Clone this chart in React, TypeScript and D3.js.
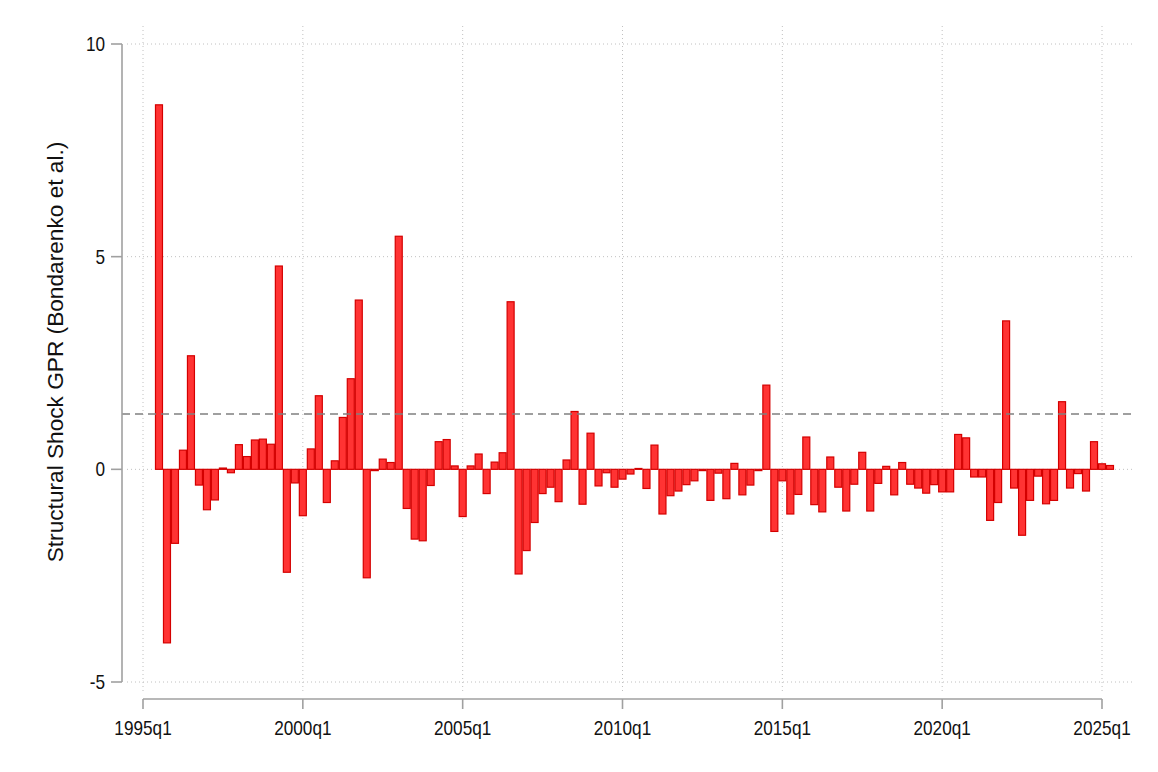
import React from "react";
import * as d3 from "d3";

// Quarterly structural GPR shocks, 1995q3 .. 2025q2
const startYear = 1995;
const startQ = 3;
const shocks: number[] = [
  8.57, -4.08,
  -1.74, 0.45, 2.67, -0.37,
  -0.95, -0.72, 0.03, -0.08,
  0.58, 0.30, 0.69, 0.71,
  0.59, 4.78, -2.42, -0.32,
  -1.09, 0.48, 1.73, -0.78,
  0.20, 1.22, 2.13, 3.98,
  -2.55, -0.03, 0.24, 0.16,
  5.48, -0.92, -1.64, -1.68,
  -0.38, 0.65, 0.70, 0.08,
  -1.11, 0.08, 0.36, -0.57,
  0.17, 0.39, 3.94, -2.46,
  -1.91, -1.25, -0.57, -0.42,
  -0.76, 0.22, 1.36, -0.82,
  0.85, -0.39, -0.08, -0.42,
  -0.23, -0.11, 0.02, -0.45,
  0.57, -1.05, -0.62, -0.51,
  -0.36, -0.27, -0.03, -0.73,
  -0.09, -0.69, 0.14, -0.60,
  -0.37, -0.03, 1.98, -1.46,
  -0.27, -1.05, -0.59, 0.76,
  -0.83, -1.0, 0.29, -0.42,
  -0.98, -0.35, 0.40, -0.98,
  -0.33, 0.07, -0.60, 0.16,
  -0.35, -0.44, -0.56, -0.36,
  -0.53, -0.53, 0.82, 0.74,
  -0.18, -0.18, -1.2, -0.78,
  3.49, -0.44, -1.55, -0.73,
  -0.16, -0.81, -0.73, 1.59,
  -0.44, -0.10, -0.51, 0.65,
  0.13, 0.09,
];
const thresholdValue = 1.3;
const xTickLabels = ["1995q1", "2000q1", "2005q1", "2010q1", "2015q1", "2020q1", "2025q1"];
const yTicks = [-5, 0, 5, 10];
const yLabel = "Structural Shock GPR (Bondarenko et al.)";

// quarter index relative to 1995q1
const quarterIndex = (label: string) => {
  const [y, q] = label.split("q").map(Number);
  return (y - 1995) * 4 + (q - 1);
};
const bars = shocks.map((v, i) => ({
  q: (startYear - 1995) * 4 + (startQ - 1) + i,
  v,
}));

export default function App() {
  const W = 1158, H = 772;
  const x = d3.scaleLinear().domain([0, 120]).range([143, 1102]);
  const y = d3.scaleLinear().domain([-5, 10]).range([682, 44]);
  const bw = x(1) - x(0);
  const tickFont = "'Liberation Sans', Arial, sans-serif";
  const gridX0 = 127, gridX1 = 1133, gridY0 = 26, gridY1 = 694;

  return (
    <svg width={W} height={H} style={{ position: "absolute", left: 0, top: 0, background: "#fff" }}>
      <rect x={0} y={0} width={W} height={H} fill="#fff" />
      {/* grid */}
      {yTicks.map((t) => (
        <line key={"gy" + t} x1={gridX0} x2={gridX1} y1={y(t)} y2={y(t)}
          stroke="#c0c0c0" strokeWidth={1} strokeDasharray="1,3" />
      ))}
      {xTickLabels.map((l) => (
        <line key={"gx" + l} x1={x(quarterIndex(l))} x2={x(quarterIndex(l))} y1={gridY0} y2={gridY1}
          stroke="#c0c0c0" strokeWidth={1} strokeDasharray="1,3" />
      ))}
      {/* bars */}
      {bars.map((b) => {
        const y0 = y(0), y1 = y(b.v);
        return (
          <rect key={b.q} x={x(b.q) - bw / 2 + 0.5} width={bw - 1}
            y={Math.min(y0, y1)} height={Math.max(Math.abs(y1 - y0), 0.8)}
            fill="#ff3333" stroke="#d40000" strokeWidth={1.2} />
        );
      })}
      {/* threshold line */}
      <line x1={122} x2={1134} y1={y(thresholdValue)} y2={y(thresholdValue)}
        stroke="#808080" strokeWidth={1.6} strokeDasharray="8,5" />
      {/* y axis */}
      <line x1={122} x2={122} y1={y(10)} y2={y(-5)} stroke="#a0a0a0" strokeWidth={1.6} />
      {yTicks.map((t) => (
        <g key={"yt" + t}>
          <line x1={111} x2={122} y1={y(t)} y2={y(t)} stroke="#a0a0a0" strokeWidth={1.6} />
          <text transform={`translate(105,${y(t) + 7}) scale(0.86,1)`} textAnchor="end"
            fontFamily={tickFont} fontSize={20} fill="#111">{t}</text>
        </g>
      ))}
      {/* x axis */}
      <line x1={x(0)} x2={x(120)} y1={699} y2={699} stroke="#a0a0a0" strokeWidth={1.6} />
      {xTickLabels.map((l) => (
        <g key={"xt" + l}>
          <line x1={x(quarterIndex(l))} x2={x(quarterIndex(l))} y1={699} y2={709}
            stroke="#a0a0a0" strokeWidth={1.6} />
          <text transform={`translate(${x(quarterIndex(l))},735) scale(0.86,1)`} textAnchor="middle"
            fontFamily={tickFont} fontSize={20} fill="#111">{l}</text>
        </g>
      ))}
      {/* y label */}
      <text transform="translate(63,352) rotate(-90) scale(1.03,1)" textAnchor="middle"
        fontFamily={tickFont} fontSize={22} fill="#111">{yLabel}</text>
    </svg>
  );
}
